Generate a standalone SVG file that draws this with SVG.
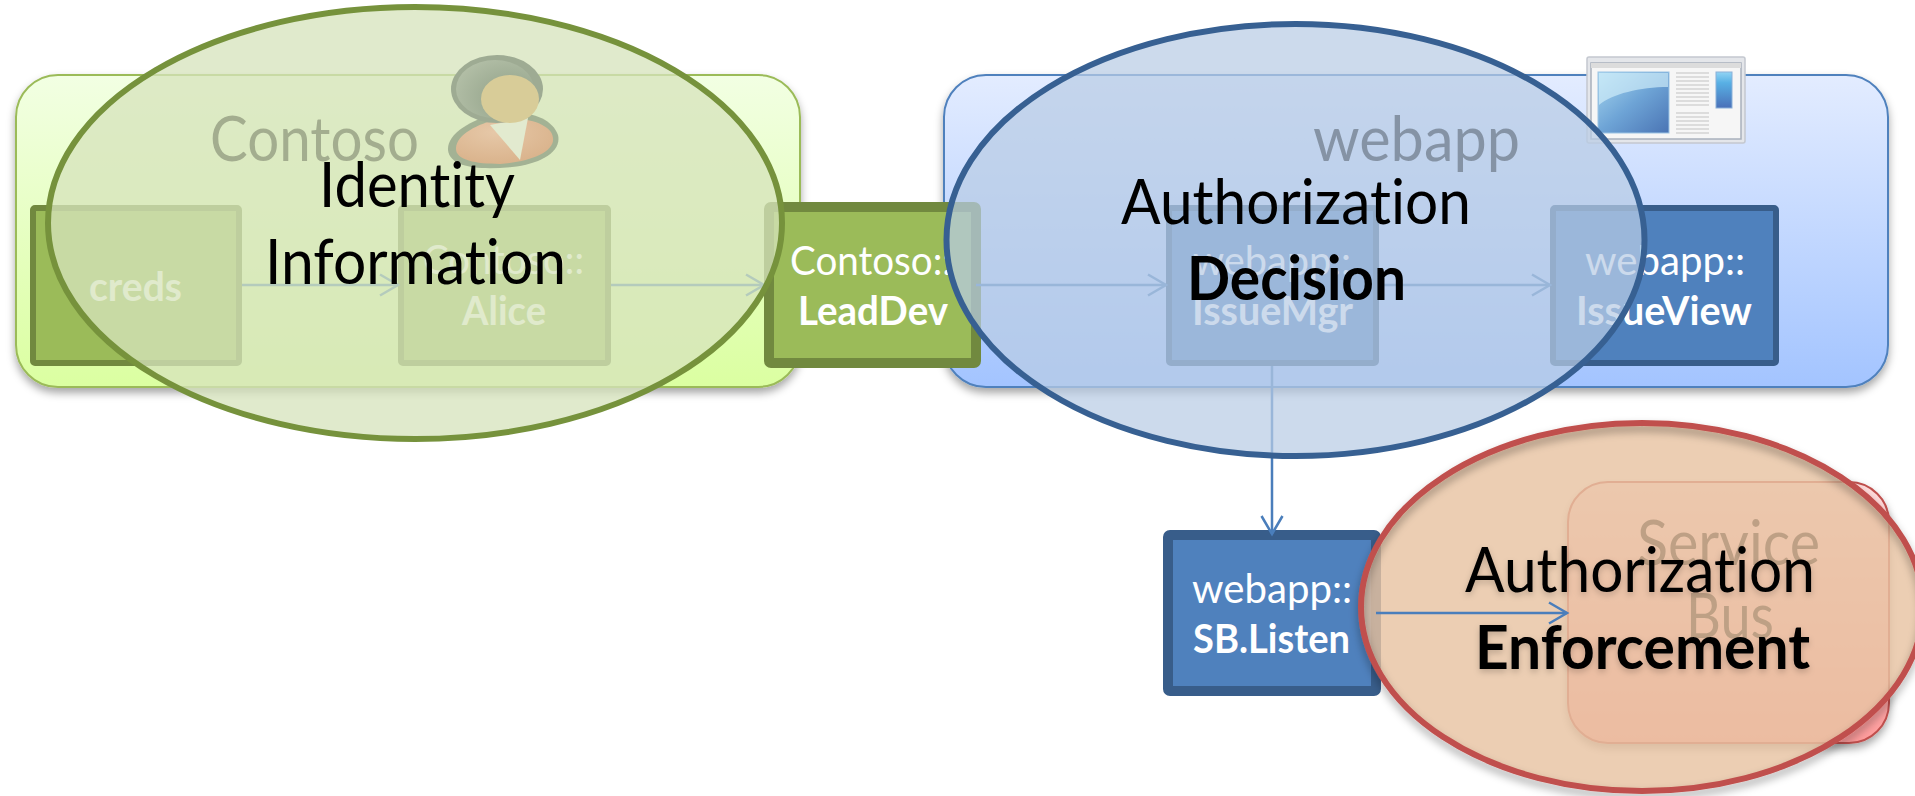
<svg xmlns="http://www.w3.org/2000/svg" width="1915" height="796" viewBox="0 0 1915 796">
<style>
text{font-family:"Lato","Carlito","Liberation Sans",sans-serif;font-variant-ligatures:none;}
.lg{font-size:61px;fill:#000;}
.sm{font-size:40px;fill:#fff;}
.b{font-weight:700;}
.grp{stroke-width:2;}
.gbox{fill:#9bbb59;stroke:#71893f;}
.bbox{fill:#4f81bd;stroke:#385d8a;}
.conn{fill:none;stroke:#4a7ebb;stroke-width:2.5;}
.el{stroke-width:6;}
.ln{stroke:#d4d4d4;stroke-width:1.5;}
</style>
<defs>
<linearGradient id="gg" x1="0" y1="0" x2="0" y2="1"><stop offset="0" stop-color="#f2ffe3"/><stop offset="1" stop-color="#dbffa1"/></linearGradient>
<linearGradient id="gb" x1="0" y1="0" x2="0" y2="1"><stop offset="0" stop-color="#e3ecff"/><stop offset="1" stop-color="#a3c4ff"/></linearGradient>
<linearGradient id="gr" x1="0" y1="0" x2="0" y2="1"><stop offset="0" stop-color="#ffdcdc"/><stop offset="1" stop-color="#ff9c9c"/></linearGradient>
<linearGradient id="gw" x1="0" y1="0" x2="1" y2="1"><stop offset="0" stop-color="#a8d8f0"/><stop offset="0.5" stop-color="#6ea4d6"/><stop offset="1" stop-color="#4a74b4"/></linearGradient>
<linearGradient id="gc" x1="0" y1="0" x2="0" y2="1"><stop offset="0" stop-color="#92d4f4"/><stop offset="0.3" stop-color="#58b0e4"/><stop offset="1" stop-color="#4a70b8"/></linearGradient>
<radialGradient id="gh" cx="0.7" cy="0.65" r="0.8"><stop offset="0" stop-color="#8f9f86"/><stop offset="1" stop-color="#b4c0a8"/></radialGradient>
<radialGradient id="gbd" cx="0.4" cy="0.3" r="0.8"><stop offset="0" stop-color="#e6c8a8"/><stop offset="1" stop-color="#d8b088"/></radialGradient>
<filter id="sh" x="-5%" y="-5%" width="110%" height="115%"><feDropShadow dx="0" dy="5" stdDeviation="4" flood-color="#000" flood-opacity="0.35"/></filter>
<filter id="tsh" x="-5%" y="-10%" width="110%" height="125%"><feDropShadow dx="0" dy="3" stdDeviation="3" flood-color="#000" flood-opacity="0.2"/></filter>
<marker id="arr" markerUnits="userSpaceOnUse" markerWidth="24" markerHeight="26" refX="20" refY="12" orient="auto"><path d="M2 1.500 L20 12 L2 22.500" fill="none" stroke="#4a7ebb" stroke-width="2.500"/></marker>
</defs>

<g id="contoso-group">
<rect class="grp" x="16" y="75" width="784" height="312" rx="42" fill="url(#gg)" stroke="#9bbb59" filter="url(#sh)"/>
<text class="lg" x="210" y="161" textLength="209" lengthAdjust="spacingAndGlyphs">Contoso</text>
</g>
<g id="webapp-group">
<rect class="grp" x="944" y="75" width="944" height="312" rx="42" fill="url(#gb)" stroke="#4f81bd" filter="url(#sh)"/>
<text class="lg" x="1313" y="161" textLength="207" lengthAdjust="spacingAndGlyphs">webapp</text>
</g>
<g id="webapp-icon">
<rect x="1587" y="57" width="158" height="86" rx="2" fill="#e4e6ea" stroke="#c4c8d0" stroke-width="1.500"/>
<rect x="1591" y="63" width="150" height="76" fill="#f6f6f6" stroke="#a8b0bc" stroke-width="1.500"/>
<rect x="1591" y="63" width="150" height="5" fill="#dcdcdc"/>
<rect x="1598" y="72" width="71" height="61" fill="url(#gw)" stroke="#9cc4e4"/>
<path d="M1599 73H1668V87C1640 87 1612 94 1599 105Z" fill="#d4f0fb" fill-opacity="0.65"/>
<g class="ln">
<path d="M1676 73H1709M1676 77H1709M1676 81H1709M1676 85H1709M1676 89H1709M1676 93H1709M1676 97H1709M1676 101H1709M1676 105H1709M1676 113H1709M1676 117H1709M1676 121H1709M1676 125H1709M1676 129H1709M1676 133H1709"/>
</g>
<rect x="1716" y="72" width="16" height="36" fill="url(#gc)" stroke="#8ab0d8"/>
</g>

<g id="service-bus">
<rect class="grp" x="1568" y="482" width="321" height="261" rx="40" fill="url(#gr)" stroke="#c0504d" filter="url(#sh)"/>
<text class="lg" x="1637" y="565" textLength="183" lengthAdjust="spacingAndGlyphs">Service</text>
<text class="lg" x="1686" y="638" textLength="88" lengthAdjust="spacingAndGlyphs">Bus</text>
</g>

<g id="creds">
<rect class="gbox" x="33" y="208" width="206" height="155" rx="2" stroke-width="6"/>
<text class="sm b" x="89" y="301" textLength="93" lengthAdjust="spacingAndGlyphs">creds</text>
</g>
<g id="alice">
<rect class="gbox" x="401" y="208" width="207" height="155" rx="2" stroke-width="6"/>
<text class="sm" x="423" y="274" textLength="161" lengthAdjust="spacingAndGlyphs">Contoso::</text>
<text class="sm b" x="462" y="325" textLength="84" lengthAdjust="spacingAndGlyphs">Alice</text>
</g>
<g id="leaddev">
<rect class="gbox" x="769" y="207" width="207" height="156" rx="2" stroke-width="10"/>
<text class="sm" x="790" y="275" textLength="162" lengthAdjust="spacingAndGlyphs">Contoso::</text>
<text class="sm b" x="798" y="325" textLength="150" lengthAdjust="spacingAndGlyphs">LeadDev</text>
</g>
<g id="issuemgr">
<rect class="bbox" x="1169" y="208" width="207" height="155" rx="2" stroke-width="6"/>
<text class="sm" x="1193" y="275" textLength="158" lengthAdjust="spacingAndGlyphs">webapp::</text>
<text class="sm b" x="1192" y="325" textLength="161" lengthAdjust="spacingAndGlyphs">IssueMgr</text>
</g>
<g id="issueview">
<rect class="bbox" x="1553" y="208" width="223" height="155" rx="2" stroke-width="6"/>
<text class="sm" x="1585" y="275" textLength="160" lengthAdjust="spacingAndGlyphs">webapp::</text>
<text class="sm b" x="1576" y="325" textLength="176" lengthAdjust="spacingAndGlyphs">IssueView</text>
</g>
<g id="sb-listen">
<rect class="bbox" x="1168" y="535" width="208" height="156" rx="2" stroke-width="10"/>
<text class="sm" x="1192" y="603" textLength="160" lengthAdjust="spacingAndGlyphs">webapp::</text>
<text class="sm b" x="1193" y="653" textLength="157" lengthAdjust="spacingAndGlyphs">SB.Listen</text>
</g>

<g id="authorization-enforcement">
<ellipse cx="1642" cy="607" rx="281" ry="184" fill="#e8c3a2" fill-opacity="0.82"/>
<ellipse class="el" cx="1642" cy="607" rx="281" ry="184" fill="none" stroke="#c0504d" filter="url(#sh)"/>
<g filter="url(#tsh)">
<text class="lg" x="1465" y="592" textLength="350" lengthAdjust="spacingAndGlyphs">Authorization</text>
<text class="lg b" x="1475" y="669" textLength="335" lengthAdjust="spacingAndGlyphs">Enforcement</text>
</g>
</g>

<g id="connectors">
<path class="conn" marker-end="url(#arr)" d="M242 285H398"/>
<path class="conn" marker-end="url(#arr)" d="M611 285H764"/>
<path class="conn" marker-end="url(#arr)" d="M976 285H1166"/>
<path class="conn" marker-end="url(#arr)" d="M1379 285H1550"/>
<path class="conn" marker-end="url(#arr)" d="M1272 366V534"/>
<path class="conn" marker-end="url(#arr)" d="M1376 613H1567"/>
</g>

<g id="identity-information">
<ellipse class="el" cx="415" cy="223" rx="367" ry="216" fill="#d6e3bc" fill-opacity="0.76" stroke="#76923c"/>
<g id="person-icon">
<path d="M498 113C530 110 552 118 558 135C562 152 540 164 512 167C480 170 450 168 448 150C447 134 470 120 498 113Z" fill="#a3b294"/>
<path d="M498 119C525 116 552 124 553 138C555 152 530 162 500 164C475 164 455 160 456 148C457 134 478 124 498 119Z" fill="url(#gbd)"/>
<path d="M490 125L528 118L520 160Z" fill="#e2eacf"/>
<ellipse cx="497" cy="89" rx="46" ry="34" fill="#9eab93"/>
<ellipse cx="495" cy="89" rx="39" ry="29" fill="url(#gh)"/>
<ellipse cx="510" cy="99" rx="29" ry="24" fill="#d8cc98"/>
</g>
<text class="lg" x="319" y="207" textLength="196" lengthAdjust="spacingAndGlyphs">Identity</text>
<text class="lg" x="265" y="284" textLength="301" lengthAdjust="spacingAndGlyphs">Information</text>
</g>
<g id="authorization-decision">
<ellipse class="el" cx="1295.500" cy="240" rx="349" ry="216" fill="#b8cce4" fill-opacity="0.72" stroke="#376092"/>
<text class="lg" x="1121" y="224" textLength="350" lengthAdjust="spacingAndGlyphs">Authorization</text>
<text class="lg b" x="1187" y="300" textLength="219" lengthAdjust="spacingAndGlyphs">Decision</text>
</g>
</svg>
